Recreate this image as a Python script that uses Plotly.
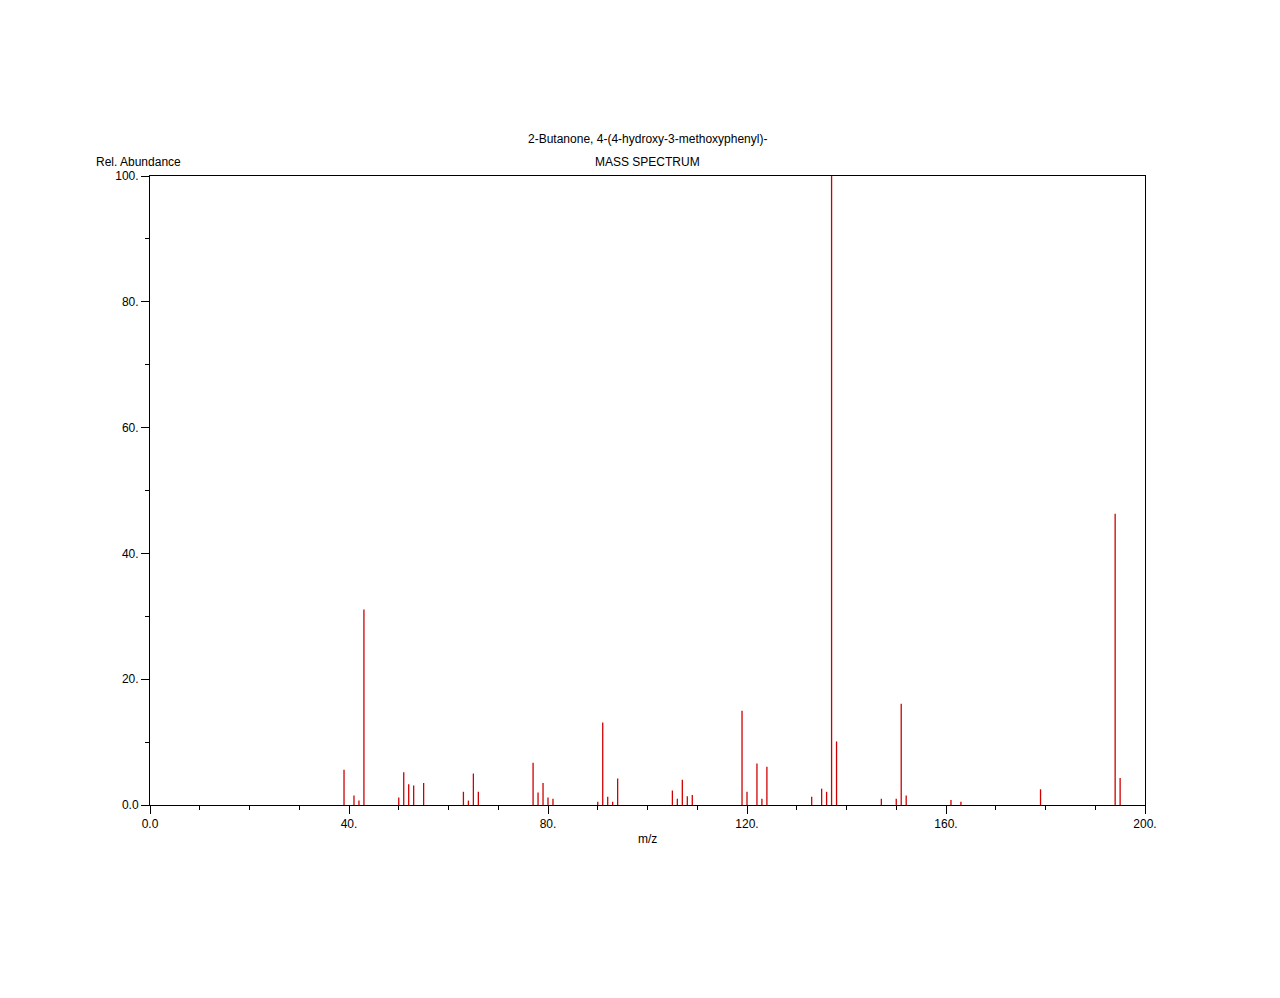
import plotly.graph_objects as go

# m/z values and relative abundances
mz = [39, 41, 42, 43, 50, 51, 52, 53, 55,
      63, 64, 65, 66, 77, 78, 79, 80, 81,
      90, 91, 92, 93, 94, 105, 106, 107, 108, 109,
      119, 120, 122, 123, 124, 133, 135, 136, 137, 138,
      147, 150, 151, 152, 161, 163, 179, 194, 195]
abundance = [5.6, 1.5, 0.7, 31.1, 1.2, 5.2, 3.3, 3.1, 3.5,
             2.1, 0.7, 5.0, 2.1, 6.7, 2.0, 3.5, 1.2, 1.0,
             0.5, 13.1, 1.3, 0.5, 4.2, 2.3, 1.0, 4.0, 1.4, 1.6,
             15.0, 2.1, 6.6, 1.0, 6.1, 1.3, 2.6, 2.1, 100.0, 10.1,
             1.0, 1.0, 16.1, 1.5, 0.8, 0.5, 2.5, 46.3, 4.3]

x_ticks = [0, 40, 80, 120, 160, 200]
x_tick_labels = ["0.0", "40.", "80.", "120.", "160.", "200."]
y_ticks = [0, 20, 40, 60, 80, 100]
y_tick_labels = ["0.0", "20.", "40.", "60.", "80.", "100."]

title_text = "2-Butanone, 4-(4-hydroxy-3-methoxyphenyl)-"
subtitle_text = "MASS SPECTRUM"
y_label = "Rel. Abundance"
x_label = "m/z"

# stick segments built from the data
xs, ys = [], []
for m, a in zip(mz, abundance):
    xs += [m, m, None]
    ys += [0, a, None]

fig = go.Figure()
fig.add_trace(go.Scatter(x=xs, y=ys, mode="lines",
                         line=dict(color="#d00000", width=1.3),
                         hoverinfo="skip", showlegend=False))

W, H = 1280, 998
OFF = 8  # page body margin
L, R, T, B = 150 - OFF, 1145 - OFF, 176 - OFF, 805 - OFF
ph = B - T


def py(y_px):
    return (B - (y_px - OFF)) / ph


def px(x_px):
    return ((x_px - OFF) - L) / (R - L)


font = dict(family="Liberation Sans, Arial, sans-serif", size=12, color="black")

fig.update_layout(
    width=W, height=H,
    margin=dict(l=L, r=W - R, t=T, b=H - B, autoexpand=False),
    plot_bgcolor="white", paper_bgcolor="white",
    font=font,
    xaxis=dict(range=[0, 200], showgrid=False, zeroline=False,
               showline=True, linecolor="black", linewidth=1, mirror=True,
               tickmode="array", tickvals=x_ticks, ticktext=x_tick_labels,
               ticks="outside", ticklen=8, tickcolor="black", tickwidth=1,
               minor=dict(dtick=10, tick0=0, ticks="outside", ticklen=4,
                          tickcolor="black", tickwidth=1, showgrid=False),
               tickfont=font),
    yaxis=dict(range=[0, 100], showgrid=False, zeroline=False,
               showline=True, linecolor="black", linewidth=1, mirror=True,
               tickmode="array", tickvals=y_ticks, ticktext=y_tick_labels,
               ticks="outside", ticklen=8, tickcolor="black", tickwidth=1,
               minor=dict(dtick=10, tick0=0, ticks="outside", ticklen=4,
                          tickcolor="black", tickwidth=1, showgrid=False),
               tickfont=font),
    annotations=[
        dict(text=title_text, xref="paper", yref="paper", x=0.5, y=py(139),
             xanchor="center", yanchor="middle", showarrow=False, font=font),
        dict(text=subtitle_text, xref="paper", yref="paper", x=0.5, y=py(162),
             xanchor="center", yanchor="middle", showarrow=False, font=font),
        dict(text=y_label, xref="paper", yref="paper",
             x=px(94), y=py(162),
             xanchor="left", yanchor="middle", showarrow=False, font=font),
        dict(text=x_label, xref="paper", yref="paper", x=0.5, y=py(839),
             xanchor="center", yanchor="middle", showarrow=False, font=font),
    ],
)

fig.write_html("out.html")
